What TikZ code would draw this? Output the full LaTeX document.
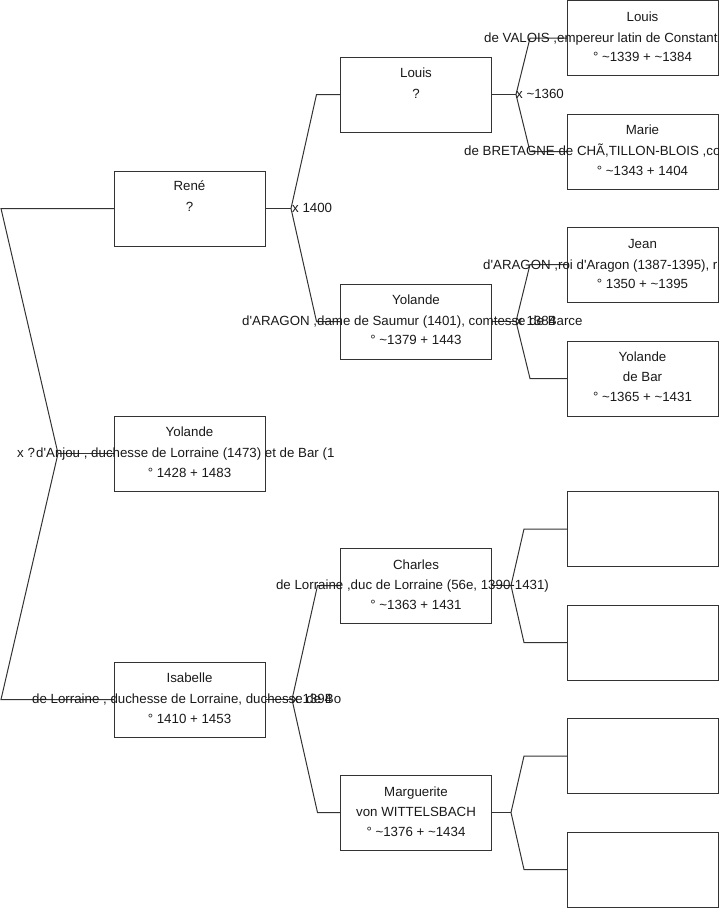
\documentclass[tikz,border=0pt]{standalone}
\usepackage{fontspec}
\setmainfont{Liberation Sans}
\newcommand\tld{\textasciitilde}
\newcommand\aq{\textquotesingle}
\begin{document}
\begin{tikzpicture}[x=1pt,y=-1pt,
  box/.style={draw=black!80, line width=1pt, minimum width=151pt, minimum height=75pt, inner sep=0pt, outer sep=0pt},
  txt/.style={anchor=base, inner sep=0pt, text=black!90, font=\fontsize{13.3}{15}\selectfont},
  txtw/.style={txt, anchor=base west},
  link/.style={draw=black!80, line width=1pt}]
\useasboundingbox (0,0) rectangle (719,908);
\clip (0,0) rectangle (719,908);

% generation 1
\node[box] (rene) at (189.5,208.5) {};
\node[box] (yolA) at (189.5,453.5) {};
\node[box] (isab) at (189.5,699.5) {};
% generation 2
\node[box] (louis) at (416,94.5) {};
\node[box] (yolAr) at (416,321.5) {};
\node[box] (charles) at (416,585.5) {};
\node[box] (marg) at (416,812.5) {};
% generation 3
\node[box] (louisV) at (642.5,38) {};
\node[box] (marie) at (642.5,151.5) {};
\node[box] (jean) at (642.5,264.5) {};
\node[box] (yolBar) at (642.5,378.5) {};
\node[box] (e1) at (642.5,529) {};
\node[box] (e2) at (642.5,642.5) {};
\node[box] (e3) at (642.5,756) {};
\node[box] (e4) at (642.5,869.5) {};

% fork points
\coordinate (f0) at (58,453.5);
\coordinate (f0a) at (1,208.5);
\coordinate (f0b) at (1,699.5);
\coordinate (f1) at (291,208.5);
\coordinate (f2) at (292,699.5);
\coordinate (f3) at (516,94.5);
\coordinate (f4) at (516,321.5);
\coordinate (f5) at (511,585.5);
\coordinate (f6) at (511,812.5);

% connectors
\draw[link] (yolA.west) -- (f0);
\draw[link] (rene.west) -- (f0a) -- (f0) -- (f0b) -- (isab.west);

\draw[link] (rene.east) -- (f1);
\draw[link] (louis.west) -- ([xshift=-24pt]louis.west) -- (f1) -- ([xshift=-24pt]yolAr.west) -- (yolAr.west);

\draw[link] (isab.east) -- (f2);
\draw[link] (charles.west) -- ([xshift=-23pt]charles.west) -- (f2) -- ([xshift=-23pt]marg.west) -- (marg.west);

\draw[link] (louis.east) -- (f3);
\draw[link] (louisV.west) -- ([xshift=-37pt]louisV.west) -- (f3) -- ([xshift=-37pt]marie.west) -- (marie.west);

\draw[link] (yolAr.east) -- (f4);
\draw[link] (jean.west) -- ([xshift=-37pt]jean.west) -- (f4) -- ([xshift=-37pt]yolBar.west) -- (yolBar.west);

\draw[link] (charles.east) -- (f5);
\draw[link] (e1.west) -- ([xshift=-43pt]e1.west) -- (f5) -- ([xshift=-43pt]e2.west) -- (e2.west);

\draw[link] (marg.east) -- (f6);
\draw[link] (e3.west) -- ([xshift=-43pt]e3.west) -- (f6) -- ([xshift=-43pt]e4.west) -- (e4.west);

% marriage labels
\node[txtw] (m0) at (17,457) {x ?};
\node[txtw] (m1) at (292,212.5) {x 1400};
\node[txtw] (m2) at (292,703) {x 1394};
\node[txtw] (m3) at (516,98) {x \tld1360};
\node[txtw] (m4) at (516,325.5) {x 1384};

% texts generation 1
\node[txt] (rene-1) at (189.5,190) {René};
\node[txt] (rene-2) at (189.5,211) {?};
\node[txt] (yolA-1) at (189.5,436) {Yolande};
\node[txtw] (yolA-2) at (36,457) {d\aq Anjou , duchesse de Lorraine (1473) et de Bar (1};
\node[txt] (yolA-3) at (189.5,477) {° 1428 + 1483};
\node[txt] (isab-1) at (189.5,682) {Isabelle};
\node[txtw] (isab-2) at (32,703) {de Lorraine , duchesse de Lorraine, duchesse de Bo};
\node[txt] (isab-3) at (189.5,723) {° 1410 + 1453};

% texts generation 2
\node[txt] (louis-1) at (416,77) {Louis};
\node[txt] (louis-2) at (416,98) {?};
\node[txt] (yolAr-1) at (416,304) {Yolande};
\node[txtw] (yolAr-2) at (242,325.5) {d\aq ARAGON ,dame de Saumur (1401), comtesse de Barce};
\node[txt] (yolAr-3) at (416,344) {° \tld1379 + 1443};
\node[txt] (charles-1) at (416,569) {Charles};
\node[txt] (charles-2) at (412.5,589) {de Lorraine ,duc de Lorraine (56e, 1390-1431)};
\node[txt] (charles-3) at (416,609) {° \tld1363 + 1431};
\node[txt] (marg-1) at (416,796) {Marguerite};
\node[txt] (marg-2) at (416,816) {von WITTELSBACH};
\node[txt] (marg-3) at (416,836) {° \tld1376 + \tld1434};

% texts generation 3
\node[txt] (louisV-1) at (642.5,21) {Louis};
\node[txtw] (louisV-2) at (484,42) {de VALOIS ,empereur latin de Constant};
\node[txt] (louisV-3) at (642.5,61.5) {° \tld1339 + \tld1384};
\node[txt] (marie-1) at (642.5,134) {Marie};
\node[txtw] (marie-2) at (464,155) {de BRETAGNE de CHÃ,TILLON-BLOIS ,co};
\node[txt] (marie-3) at (642.5,175) {° \tld1343 + 1404};
\node[txt] (jean-1) at (642.5,248) {Jean};
\node[txtw] (jean-2) at (483,269) {d\aq ARAGON ,roi d\aq Aragon (1387-1395), r};
\node[txt] (jean-3) at (642.5,288) {° 1350 + \tld1395};
\node[txt] (yolBar-1) at (642.5,361) {Yolande};
\node[txt] (yolBar-2) at (642.5,381) {de Bar};
\node[txt] (yolBar-3) at (642.5,401) {° \tld1365 + \tld1431};
\end{tikzpicture}
\end{document}
